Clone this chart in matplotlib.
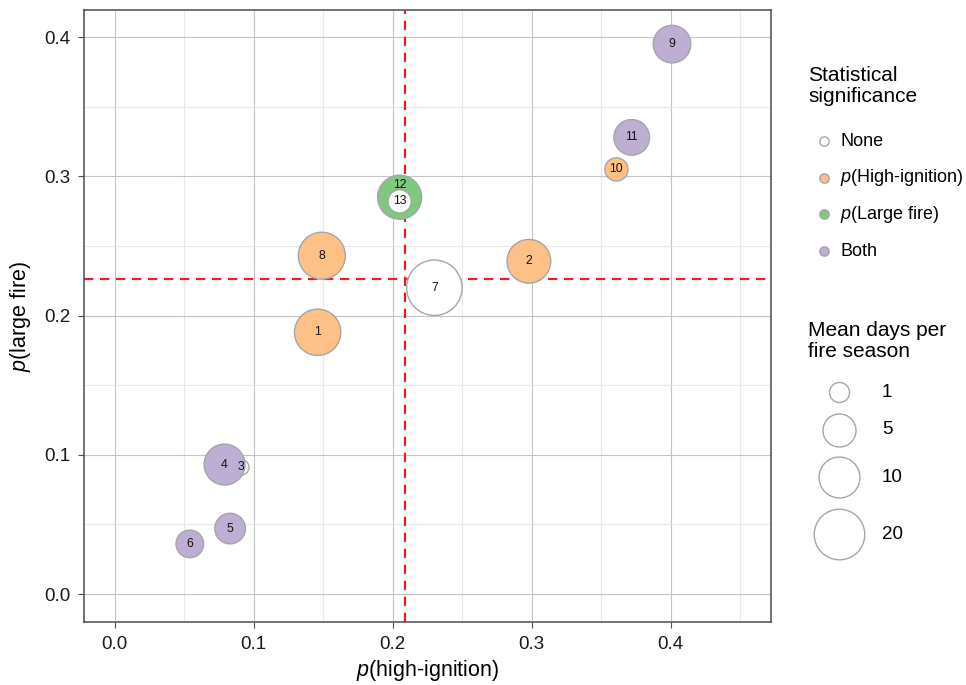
import numpy as np
import matplotlib
matplotlib.use("Agg")
import matplotlib.pyplot as plt
from matplotlib.ticker import MultipleLocator

plt.rcParams['font.family'] = ['Liberation Sans', 'DejaVu Sans']
plt.rcParams['mathtext.fontset'] = 'custom'
plt.rcParams['mathtext.rm'] = 'Liberation Sans'
plt.rcParams['mathtext.it'] = 'Liberation Sans:italic'

# data
region_id = [1, 2, 3, 4, 5, 6, 7, 8, 9, 10, 11, 12, 13]
p_high_ignition = [0.146, 0.298, 0.091, 0.079, 0.083, 0.054, 0.230, 0.149,
                   0.401, 0.361, 0.372, 0.205, 0.205]
p_large_fire = [0.188, 0.239, 0.091, 0.093, 0.047, 0.036, 0.220, 0.243,
                0.395, 0.305, 0.328, 0.285, 0.282]
mean_days = [15.0, 12.4, 0.45, 10.0, 3.9, 2.8, 27.0, 15.7, 7.6, 1.6, 6.4, 12.7, 1.6]
significance = ['High', 'High', 'None', 'Both', 'Both', 'Both', 'None', 'High',
                'Both', 'High', 'Both', 'Large', 'None']
threshold_ignition = 0.209
threshold_large = 0.226

sig_levels = ['None', 'High', 'Large', 'Both']
sig_labels = ['None', '$p$(High-ignition)', '$p$(Large fire)', 'Both']
sig_colors = {'None': '#ffffff', 'High': '#fdc086', 'Large': '#7fc97f', 'Both': '#beaed4'}
size_keys = [1, 5, 10, 20]

EDGE = '#a6a6a6'


def radius_px(days):
    return 10.5 * np.power(days, 0.3) - 0.5


def marker_area(days):
    # scatter area in pt^2 from radius in pixels (dpi 100)
    d_pt = 2 * radius_px(np.asarray(days, dtype=float)) * 0.72
    return d_pt ** 2


fig = plt.figure(figsize=(9.66, 6.85), dpi=100)
ax = fig.add_axes([0.0873, 0.0924, 0.7105, 0.8926])

ax.set_xlim(-0.0219, 0.472)
ax.set_ylim(-0.0199, 0.4193)
ax.xaxis.set_major_locator(MultipleLocator(0.1))
ax.yaxis.set_major_locator(MultipleLocator(0.1))
ax.xaxis.set_minor_locator(MultipleLocator(0.05))
ax.yaxis.set_minor_locator(MultipleLocator(0.05))
ax.grid(which='major', color='#c4c4c4', lw=0.8, zorder=0)
ax.grid(which='minor', color='#e8e8e8', lw=0.8, zorder=0)
ax.set_axisbelow(True)
ax.tick_params(which='minor', length=0)
ax.tick_params(which='major', length=4, width=0.8, color='#4d4d4d',
               labelsize=13.5, labelcolor='#1a1a1a', pad=6)
for s in ax.spines.values():
    s.set_color('#4d4d4d')
    s.set_linewidth(1.1)

ax.axvline(threshold_ignition, color='#ee1c1c', lw=1.6, ls=(0, (4.2, 3.0)), zorder=1.5)
ax.axhline(threshold_large, color='#ee1c1c', lw=1.6, ls=(0, (4.2, 3.0)), zorder=1.5)

colors = [sig_colors[s] for s in significance]
ax.scatter(p_high_ignition, p_large_fire, s=marker_area(mean_days), c=colors,
           edgecolors=EDGE, linewidths=1.0, zorder=3)

label_nudge = {12: 12}
for i, rid in enumerate(region_id):
    ax.annotate(str(rid), (p_high_ignition[i], p_large_fire[i]),
                xytext=(0, label_nudge.get(rid, 0)), textcoords='offset pixels',
                ha='center', va='center', fontsize=8.8, color='#111111', zorder=4)

ax.set_xlabel('$p$(high-ignition)', fontsize=15.5, labelpad=4)
ax.set_ylabel('$p$(large fire)', fontsize=15.5, labelpad=8)

# legends drawn in pixel space on an overlay axes
lax = fig.add_axes([0, 0, 1, 1], zorder=-1)
lax.set_xlim(0, 966)
lax.set_ylim(685, 0)
lax.axis('off')

lax.text(808, 66, 'Statistical\nsignificance', fontsize=15, va='top', ha='left',
         linespacing=1.15)
for i, (lev, lab) in enumerate(zip(sig_levels, sig_labels)):
    y = 141 + 36.7 * i
    lax.scatter([824], [y], s=45, c=sig_colors[lev], edgecolors=EDGE, linewidths=1.0)
    lax.text(840, y, lab, fontsize=13, va='center', ha='left')

lax.text(808, 321, 'Mean days per\nfire season', fontsize=15, va='top', ha='left',
         linespacing=1.15)
y = 392.0
prev_r = None
for k in size_keys:
    r = radius_px(k)
    if prev_r is not None:
        y += prev_r + r + 11
    lax.scatter([838.5], [y], s=marker_area(k), c='white', edgecolors=EDGE, linewidths=1.0)
    lax.text(882, y, str(k), fontsize=13.5, va='center', ha='left')
    prev_r = r

fig.savefig('out.png', dpi=100)
